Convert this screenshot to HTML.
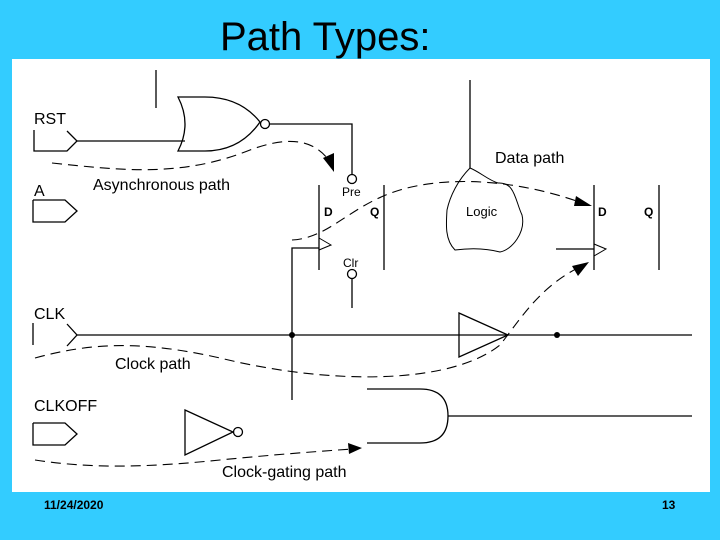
<!DOCTYPE html>
<html><head><meta charset="utf-8"><style>
html,body{margin:0;padding:0;background:#33CCFF;}
body{width:720px;height:540px;overflow:hidden;position:relative;font-family:"Liberation Sans",sans-serif;}
</style></head><body>
<svg width="720" height="540" viewBox="0 0 720 540" xmlns="http://www.w3.org/2000/svg" style="position:absolute;left:0;top:0">
<rect x="0" y="0" width="720" height="540" fill="#33CCFF"/>
<text x="220" y="50" font-family="Liberation Sans" font-size="40" fill="#000">Path Types:</text>
<rect x="12" y="59" width="698" height="433" fill="#fff"/>
<g stroke="#000" stroke-width="1.3" fill="none">
<line x1="156" y1="70" x2="156" y2="108"/>
<line x1="470" y1="80" x2="470" y2="168"/>
<polyline points="34,130 34,151 67,151 77,141 67,131"/>
<line x1="77" y1="141" x2="185" y2="141"/>
<path d="M178,97 Q192,124 178,151 L205,151 Q240,151 260,122 Q240,97 205,97 Z"/>
<circle cx="265" cy="124" r="4.5"/>
<polyline points="270,124 352,124 352,174"/>
<circle cx="352" cy="179" r="4.5"/>
<polyline points="33,200 65,200 77,211 65,222 33,222 33,200"/>
<line x1="319" y1="185" x2="319" y2="270"/>
<line x1="384" y1="185" x2="384" y2="270"/>
<polyline points="319,238 331,245 319,250" stroke-width="1"/>
<polyline points="292,400 292,248 319,248"/>
<circle cx="352" cy="274" r="4.5"/>
<line x1="352" y1="279" x2="352" y2="308"/>
<path d="M470,168 C480,172 488,180 498,183 C515,182 515,200 522,215 C526,232 512,250 500,252 C485,248 470,248 455,250 C445,240 446,225 447,210 C450,196 458,180 470,168 Z" stroke-width="1"/>
<line x1="594" y1="185" x2="594" y2="270"/>
<line x1="659" y1="185" x2="659" y2="270"/>
<polyline points="594,244 606,249 594,256" stroke-width="1"/>
<line x1="556" y1="249" x2="594" y2="249"/>
<polyline points="33,323 33,345"/>
<polyline points="67,324 77,335 67,346"/>
<line x1="77" y1="335" x2="692" y2="335"/>
<path d="M459,313 L508,335 L459,357 Z"/>
<polyline points="33,423 65,423 77,434 65,445 33,445 33,423"/>
<path d="M185,410 L233,432 L185,455 Z"/>
<circle cx="238" cy="432" r="4.5"/>
<path d="M367,389 L420,389 Q448,389 448,416 Q448,443 420,443 L367,443"/>
<line x1="448" y1="416" x2="692" y2="416"/>
</g>
<circle cx="292" cy="335" r="3" fill="#000"/>
<circle cx="557" cy="335" r="3" fill="#000"/>
<g stroke="#000" stroke-width="1.1" fill="none" stroke-dasharray="10,6">
<path d="M52,163 C120,170 180,178 250,150 C290,135 315,140 330,162"/>
<path d="M292,240 C330,238 350,205 400,190 C450,175 520,180 585,204"/>
<path d="M35,358 C90,343 140,340 220,358 C330,385 450,385 500,345 C520,320 540,285 584,265"/>
<path d="M35,460 C100,470 160,466 220,460 C270,455 310,452 352,449"/>
</g>
<g fill="#000">
<polygon points="334,172 323,158 334,153"/>
<polygon points="592,206 576,196 574,206"/>
<polygon points="589,262 572,266 578,276"/>
<polygon points="362,448 348,443 349,454"/>
</g>
<g font-family="Liberation Sans" fill="#000">
<text x="34" y="124" font-size="16">RST</text>
<text x="34" y="196" font-size="16">A</text>
<text x="93" y="190" font-size="16">Asynchronous path</text>
<text x="342" y="196" font-size="12">Pre</text>
<text x="324" y="216" font-size="12" font-weight="bold">D</text>
<text x="370" y="216" font-size="12" font-weight="bold">Q</text>
<text x="343" y="267" font-size="12">Clr</text>
<text x="495" y="163" font-size="16">Data path</text>
<text x="466" y="216" font-size="13">Logic</text>
<text x="598" y="216" font-size="12" font-weight="bold">D</text>
<text x="644" y="216" font-size="12" font-weight="bold">Q</text>
<text x="34" y="319" font-size="16">CLK</text>
<text x="115" y="369" font-size="16">Clock path</text>
<text x="34" y="411" font-size="16">CLKOFF</text>
<text x="222" y="477" font-size="16">Clock-gating path</text>
<text x="44" y="509" font-size="12" font-weight="bold">11/24/2020</text>
<text x="662" y="509" font-size="12" font-weight="bold">13</text>
</g>
</svg>
</body></html>
